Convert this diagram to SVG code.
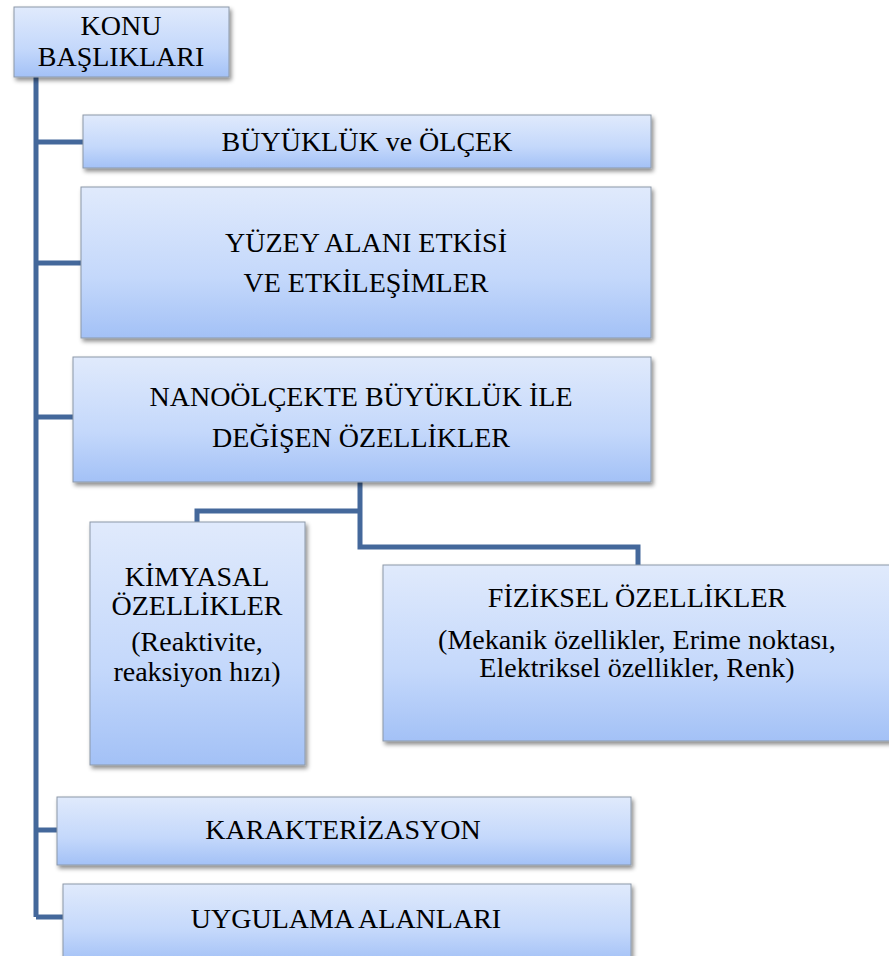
<svg xmlns="http://www.w3.org/2000/svg" width="889" height="956" viewBox="0 0 889 956">
  <defs>
    <linearGradient id="boxFill" x1="0" y1="0" x2="0" y2="1">
      <stop offset="0" stop-color="#e0eafc"/>
      <stop offset="0.6" stop-color="#c4d8fb"/>
      <stop offset="1" stop-color="#a3c1f6"/>
    </linearGradient>
    <filter id="shadow" x="-10%" y="-10%" width="125%" height="130%">
      <feDropShadow dx="2" dy="3" stdDeviation="2" flood-color="#000" flood-opacity="0.45"/>
    </filter>
  </defs>
  <style>
    .box { fill: url(#boxFill); stroke: #8c98a8; stroke-width: 1; filter: url(#shadow); }
    .lbl { font-family: 'Liberation Serif', 'Times New Roman', serif; font-size: 28px; fill: #000; text-anchor: middle; }
    .conn { fill: none; stroke: #44689b; stroke-width: 5; stroke-linejoin: miter; }
  </style>
  <rect width="889" height="956" fill="#fff"/>

  <!-- connectors -->
  <g id="connectors">
    <path class="conn" d="M36 77 V917"/>
    <path class="conn" d="M36 142 H83"/>
    <path class="conn" d="M36 263 H81"/>
    <path class="conn" d="M36 417 H73"/>
    <path class="conn" d="M36 830 H57"/>
    <path class="conn" d="M36 917 H63"/>
    <path class="conn" d="M360 482 V547 H638 V565"/>
    <path class="conn" d="M360 511 H197 V522"/>
  </g>

  <g id="konu-basliklari">
    <rect class="box" x="14" y="7" width="215" height="70"/>
    <text class="lbl" x="121" y="35">KONU</text>
    <text class="lbl" x="121" y="66">BAŞLIKLARI</text>
  </g>

  <g id="buyukluk-olcek">
    <rect class="box" x="83" y="115" width="568" height="53"/>
    <text class="lbl" x="367" y="151">BÜYÜKLÜK ve ÖLÇEK</text>
  </g>

  <g id="yuzey-alani">
    <rect class="box" x="81" y="187" width="570" height="151"/>
    <text class="lbl" x="366" y="252">YÜZEY ALANI ETKİSİ</text>
    <text class="lbl" x="366" y="292">VE ETKİLEŞİMLER</text>
  </g>

  <g id="nanoolcek">
    <rect class="box" x="73" y="357" width="578" height="125"/>
    <text class="lbl" x="361" y="406">NANOÖLÇEKTE BÜYÜKLÜK İLE</text>
    <text class="lbl" x="361" y="447">DEĞİŞEN ÖZELLİKLER</text>
  </g>

  <g id="kimyasal">
    <rect class="box" x="90" y="522" width="215" height="243"/>
    <text class="lbl" x="197" y="586">KİMYASAL</text>
    <text class="lbl" x="197" y="615">ÖZELLİKLER</text>
    <text class="lbl" x="197" y="651">(Reaktivite,</text>
    <text class="lbl" x="197" y="681">reaksiyon hızı)</text>
  </g>

  <g id="fiziksel">
    <rect class="box" x="383" y="565" width="510" height="176"/>
    <text class="lbl" x="637" y="607">FİZİKSEL ÖZELLİKLER</text>
    <text class="lbl" x="637" y="649">(Mekanik özellikler, Erime noktası,</text>
    <text class="lbl" x="637" y="677">Elektriksel özellikler, Renk)</text>
  </g>

  <g id="karakterizasyon">
    <rect class="box" x="57" y="797" width="574" height="68"/>
    <text class="lbl" x="343" y="839">KARAKTERİZASYON</text>
  </g>

  <g id="uygulama">
    <rect class="box" x="63" y="884" width="568" height="78"/>
    <text class="lbl" x="346" y="928">UYGULAMA ALANLARI</text>
  </g>
</svg>
